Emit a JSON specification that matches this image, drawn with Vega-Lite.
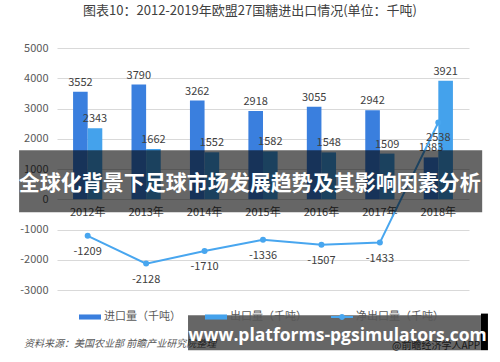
{
  "$schema": "https://vega.github.io/schema/vega-lite/v6.json",
  "autosize": {"type": "none"},
  "width": 412,
  "height": 242,
  "padding": {"left": 57, "top": 48, "right": 31, "bottom": 72},
  "background": "white",
  "config": {
    "view": {"stroke": null},
    "font": "Noto Sans CJK SC",
    "text": {"font": "Noto Sans CJK SC"},
    "locale": {"number": {"decimal": ".", "thousands": "", "grouping": [3], "currency": ["", ""], "minus": "-"}}
  },
  "title": {
    "text": "图表10：2012-2019年欧盟27国糖进出口情况(单位：千吨)",
    "font": "Noto Sans CJK SC",
    "fontSize": 13,
    "fontWeight": "normal",
    "color": "#404040",
    "anchor": "middle",
    "offset": 24,
    "dx": -13
  },
  "data": {
    "values": [
      {"year": "2012年", "series": "进口量（千吨）", "value": 3552},
      {"year": "2013年", "series": "进口量（千吨）", "value": 3790},
      {"year": "2014年", "series": "进口量（千吨）", "value": 3262},
      {"year": "2015年", "series": "进口量（千吨）", "value": 2918},
      {"year": "2016年", "series": "进口量（千吨）", "value": 3055},
      {"year": "2017年", "series": "进口量（千吨）", "value": 2942},
      {"year": "2018年", "series": "进口量（千吨）", "value": 1383},
      {"year": "2012年", "series": "出口量（千吨）", "value": 2343},
      {"year": "2013年", "series": "出口量（千吨）", "value": 1662},
      {"year": "2014年", "series": "出口量（千吨）", "value": 1552},
      {"year": "2015年", "series": "出口量（千吨）", "value": 1582},
      {"year": "2016年", "series": "出口量（千吨）", "value": 1548},
      {"year": "2017年", "series": "出口量（千吨）", "value": 1509},
      {"year": "2018年", "series": "出口量（千吨）", "value": 3921},
      {"year": "2012年", "series": "净出口量（千吨）", "value": -1209},
      {"year": "2013年", "series": "净出口量（千吨）", "value": -2128},
      {"year": "2014年", "series": "净出口量（千吨）", "value": -1710},
      {"year": "2015年", "series": "净出口量（千吨）", "value": -1336},
      {"year": "2016年", "series": "净出口量（千吨）", "value": -1507},
      {"year": "2017年", "series": "净出口量（千吨）", "value": -1433},
      {"year": "2018年", "series": "净出口量（千吨）", "value": 2538}
    ]
  },
  "resolve": {"scale": {"x": "independent", "y": "independent"}},
  "layer": [
    {
      "layer": [
        {
          "transform": [{"filter": "datum.series !== '净出口量（千吨）'"}],
          "mark": {"type": "bar"},
          "encoding": {
            "x": {
              "field": "year", "type": "nominal", "sort": null,
              "scale": {"paddingInner": 0.5, "paddingOuter": 0.275},
              "axis": {
                "title": null, "labelAngle": 0, "domain": false, "ticks": false,
                "offset": -91, "labelPadding": 7, "labelFontSize": 11,
                "labelColor": "#404040", "labelFont": "Noto Sans CJK SC"
              }
            },
            "xOffset": {"field": "series", "type": "nominal", "scale": {"domain": ["进口量（千吨）", "出口量（千吨）"]}},
            "y": {
              "field": "value", "type": "quantitative",
              "scale": {"domain": [-3000, 5000], "nice": false},
              "axis": {
                "title": null, "values": [-3000, -2000, -1000, 0, 1000, 2000, 3000, 4000, 5000],
                "tickCount": 12,
                "format": "d", "labelOverlap": false,
                "domain": false, "ticks": false, "labelPadding": 9, "labelFontSize": 11,
                "labelColor": "#595959", "gridColor": "#d9d9d9", "gridWidth": 1
              }
            },
            "color": {
              "field": "series", "type": "nominal",
              "scale": {
                "domain": ["进口量（千吨）", "出口量（千吨）", "净出口量（千吨）"],
                "range": ["#3a7fde", "#44a2ec", "#48a6ef"]
              },
              "legend": {
                "title": null, "orient": "none", "direction": "horizontal",
                "legendX": 22, "legendY": 258,
                "symbolSize": 484, "labelOffset": 3, "columnPadding": 24,
                "labelFontSize": 11, "labelColor": "#595959", "labelFont": "Noto Sans CJK SC",
                "symbolStrokeWidth": 0, "labelOverlap": false,
                "encode": {
                  "symbols": {
                    "update": {
                      "shape": {"signal": "datum.value === '净出口量（千吨）' ? 'M-1,-0.09H1V0.09H-1Z M0.27,0A0.27,0.27 0 1,1 -0.27,0A0.27,0.27 0 1,1 0.27,0Z' : 'M-1,-0.23H1V0.23H-1Z'"},
                      "fill": {"scale": "color", "field": "value"},
                      "fillOpacity": {"value": 1},
                      "strokeWidth": {"value": 0}
                    }
                  }
                }
              }
            }
          }
        },
        {
          "transform": [{"filter": "datum.series !== '净出口量（千吨）'"}],
          "mark": {"type": "text", "baseline": "bottom", "dy": -4, "fontSize": 11, "color": "#404040"},
          "encoding": {
            "x": {"field": "year", "type": "nominal", "sort": null},
            "xOffset": {"field": "series", "type": "nominal", "scale": {"domain": ["进口量（千吨）", "出口量（千吨）"]}},
            "y": {"field": "value", "type": "quantitative", "scale": {"domain": [-3000, 5000], "nice": false}},
            "text": {"field": "value", "type": "quantitative", "format": "d"}
          }
        },
        {
          "transform": [{"filter": "datum.series === '净出口量（千吨）'"}],
          "mark": {"type": "line", "strokeWidth": 2},
          "encoding": {
            "x": {"field": "year", "type": "nominal", "sort": null},
            "y": {"field": "value", "type": "quantitative", "scale": {"domain": [-3000, 5000], "nice": false}},
            "color": {"field": "series", "type": "nominal"}
          }
        },
        {
          "transform": [{"filter": "datum.series === '净出口量（千吨）'"}],
          "mark": {"type": "point", "filled": true, "size": 36, "opacity": 1},
          "encoding": {
            "x": {"field": "year", "type": "nominal", "sort": null},
            "y": {"field": "value", "type": "quantitative", "scale": {"domain": [-3000, 5000], "nice": false}},
            "color": {"field": "series", "type": "nominal"}
          }
        },
        {
          "transform": [{"filter": "datum.series === '净出口量（千吨）'"}],
          "mark": {"type": "text", "baseline": "middle", "fontSize": 11, "color": "#404040"},
          "encoding": {
            "x": {"field": "year", "type": "nominal", "sort": null},
            "y": {"field": "value", "type": "quantitative", "scale": {"domain": [-3000, 5000], "nice": false}},
            "yOffset": {"condition": {"test": "datum.value > 0", "value": -11}, "value": 16},
            "text": {"field": "value", "type": "quantitative", "format": "d"}
          }
        }
      ]
    },
    {
      "data": {"values": [{"label": "资料来源：美国农业部 前瞻产业研究院整理"}]},
      "mark": {"type": "text", "align": "left", "baseline": "middle", "fontSize": 10, "fontStyle": "italic", "color": "#595959", "clip": false},
      "encoding": {
        "x": {"datum": -0.08, "type": "quantitative", "scale": {"domain": [0, 1], "nice": false, "zero": false}, "axis": null},
        "y": {"datum": -4793, "type": "quantitative", "scale": {"domain": [-3000, 5000], "nice": false}, "axis": null},
        "text": {"field": "label"}
      }
    },
    {
      "data": {"values": [{"label": "@前瞻经济学人APP"}]},
      "mark": {"type": "text", "align": "right", "baseline": "middle", "fontSize": 10, "color": "#404040", "clip": false},
      "encoding": {
        "x": {"datum": 1.027, "type": "quantitative", "scale": {"domain": [0, 1], "nice": false, "zero": false}, "axis": null},
        "y": {"datum": -4860, "type": "quantitative", "scale": {"domain": [-3000, 5000], "nice": false}, "axis": null},
        "text": {"field": "label"}
      }
    },
    {
      "data": {"values": [{"band": "headline"}]},
      "mark": {"type": "rect", "color": "#000000", "opacity": 0.6, "clip": false},
      "encoding": {
        "x": {"datum": -0.092, "type": "quantitative", "scale": {"domain": [0, 1], "nice": false, "zero": false}, "axis": null},
        "x2": {"datum": 1.032},
        "y": {"datum": 1620, "type": "quantitative", "scale": {"domain": [-3000, 5000], "nice": false}, "axis": null},
        "y2": {"datum": -430}
      }
    },
    {
      "data": {"values": [{"band": "url"}]},
      "mark": {"type": "rect", "color": "#000000", "opacity": 0.6, "clip": false},
      "encoding": {
        "x": {"datum": 0.318, "type": "quantitative", "scale": {"domain": [0, 1], "nice": false, "zero": false}, "axis": null},
        "x2": {"datum": 1.029},
        "y": {"datum": -3835, "type": "quantitative", "scale": {"domain": [-3000, 5000], "nice": false}, "axis": null},
        "y2": {"datum": -4990}
      }
    },
    {
      "data": {"values": [{"band": "edge"}]},
      "mark": {"type": "rect", "color": "#000000", "opacity": 1, "clip": false},
      "encoding": {
        "x": {"datum": 1.029, "type": "quantitative", "scale": {"domain": [0, 1], "nice": false, "zero": false}, "axis": null},
        "x2": {"datum": 1.046},
        "y": {"datum": -3780, "type": "quantitative", "scale": {"domain": [-3000, 5000], "nice": false}, "axis": null},
        "y2": {"datum": -4990}
      }
    },
    {
      "data": {"values": [{"label": "全球化背景下足球市场发展趋势及其影响因素分析"}]},
      "mark": {"type": "text", "align": "center", "baseline": "middle", "fontSize": 21, "fontWeight": "bold", "color": "#ffffff", "font": "Noto Sans CJK SC", "clip": false},
      "encoding": {
        "x": {"datum": 0.468, "type": "quantitative", "scale": {"domain": [0, 1], "nice": false, "zero": false}, "axis": null},
        "y": {"datum": 496, "type": "quantitative", "scale": {"domain": [-3000, 5000], "nice": false}, "axis": null},
        "text": {"field": "label"}
      }
    },
    {
      "data": {"values": [{"label": "www.platforms-pgsimulators.com"}]},
      "mark": {"type": "text", "align": "center", "baseline": "middle", "fontSize": 17.5, "fontWeight": "bold", "color": "#ffffff", "font": "Open Sans", "clip": false},
      "encoding": {
        "x": {"datum": 0.681, "type": "quantitative", "scale": {"domain": [0, 1], "nice": false, "zero": false}, "axis": null},
        "y": {"datum": -4529, "type": "quantitative", "scale": {"domain": [-3000, 5000], "nice": false}, "axis": null},
        "text": {"field": "label"}
      }
    }
  ]
}
